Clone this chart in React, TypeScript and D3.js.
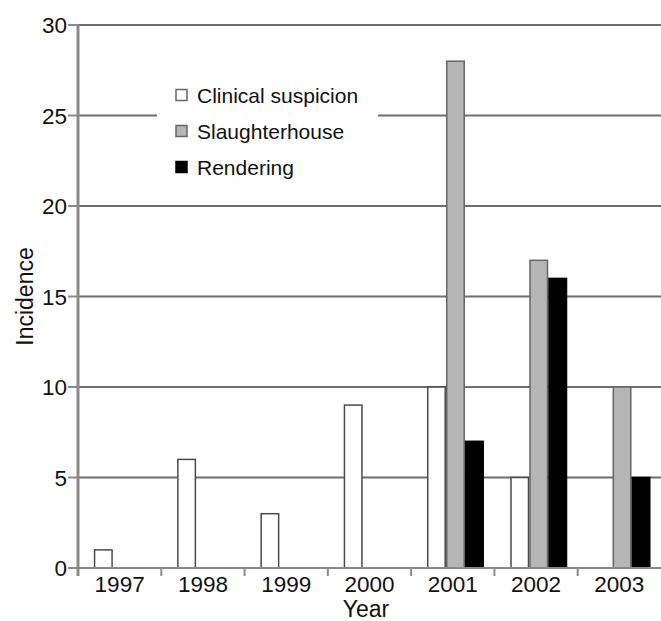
import React from "react";
import * as d3 from "d3";

const years = ["1997", "1998", "1999", "2000", "2001", "2002", "2003"];
const seriesNames = ["Clinical suspicion", "Slaughterhouse", "Rendering"];
const clinical = [1, 6, 3, 9, 10, 5, 0];
const slaughterhouse = [0, 0, 0, 0, 28, 17, 10];
const rendering = [0, 0, 0, 0, 7, 16, 5];
const yTicks = [0, 5, 10, 15, 20, 25, 30];

const W = 661;
const H = 621;
const FONT = "'Liberation Sans', Arial, Helvetica, sans-serif";

export default function App() {
  const left = 78;
  const right = 661;
  const top = 25;
  const bottom = 568;

  const x = d3.scaleBand<string>().domain(years).range([left, right]).padding(0);
  const step = x.bandwidth();
  const inner = d3
    .scaleBand<string>()
    .domain(seriesNames)
    .range([step * 0.19, step * 0.19 + 57])
    .padding(0);
  const y = d3.scaleLinear().domain([0, 30]).range([bottom, top]);

  const series = [clinical, slaughterhouse, rendering];
  const fills = ["#ffffff", "#b5b5b5", "#000000"];
  const strokes = ["#4a4a4a", "#666666", "#000000"];

  const gridColor = "#6e6e6e";
  const axisColor = "#8a8a8a";

  return (
    <svg width={W} height={H} style={{ display: "block", position: "absolute", left: 0, top: 0 }}>
      <rect x={0} y={0} width={W} height={H} fill="#fff" />
      {/* gridlines */}
      {yTicks.filter((t) => t > 0).map((t) => (
        <line key={t} x1={left} x2={right} y1={y(t)} y2={y(t)} stroke={gridColor} strokeWidth={2} />
      ))}
      {/* legend box */}
      <rect x={157} y={78} width={221} height={108} fill="#fff" />
      {/* bars */}
      {years.map((yr, i) => (
        <g key={yr} transform={`translate(${x(yr)},0)`}>
          {series.map((s, k) =>
            s[i] > 0 ? (
              <rect
                key={k}
                x={(inner(seriesNames[k]) as number) + 0.75}
                y={y(s[i])}
                width={inner.bandwidth() - 1.5}
                height={y(0) - y(s[i])}
                fill={fills[k]}
                stroke={strokes[k]}
                strokeWidth={1.5}
              />
            ) : null
          )}
        </g>
      ))}
      {/* x axis */}
      <line x1={68} x2={right} y1={bottom} y2={bottom} stroke={axisColor} strokeWidth={2} />
      {years.slice(1).map((yr) => (
        <line key={yr} x1={x(yr)} x2={x(yr)} y1={bottom} y2={bottom + 8} stroke={axisColor} strokeWidth={2} />
      ))}
      {years.map((yr) => (
        <text
          key={yr}
          x={(x(yr) as number) + step / 2}
          y={592}
          textAnchor="middle"
          fontFamily={FONT}
          fontSize={22.5}
          fill="#111"
        >
          {yr}
        </text>
      ))}
      {/* y axis */}
      <line x1={left} x2={left} y1={top - 1} y2={bottom + 8} stroke={axisColor} strokeWidth={3} />
      {yTicks.map((t) => (
        <g key={t}>
          <line x1={68} x2={left} y1={y(t)} y2={y(t)} stroke={axisColor} strokeWidth={2} />
          <text
            x={67}
            y={y(t)}
            dy="0.36em"
            textAnchor="end"
            fontFamily={FONT}
            fontSize={22.5}
            fill="#111"
          >
            {t}
          </text>
        </g>
      ))}
      {/* axis titles */}
      <text
        transform={`translate(33,${(top + bottom) / 2}) rotate(-90)`}
        textAnchor="middle"
        fontFamily={FONT}
        fontSize={23}
        fill="#111"
      >
        Incidence
      </text>
      <text x={366} y={617} textAnchor="middle" fontFamily={FONT} fontSize={23} fill="#111">
        Year
      </text>
      {/* legend */}
      {seriesNames.map((n, k) => (
        <g key={n} transform={`translate(176,${95 + k * 36})`}>
          <rect x={0} y={-5.5} width={11} height={11} fill={fills[k]} stroke={k === 2 ? "#000" : "#666"} strokeWidth={1.5} />
          <text x={21} y={0} dy="0.36em" fontFamily={FONT} fontSize={21} fill="#111">
            {n}
          </text>
        </g>
      ))}
    </svg>
  );
}
